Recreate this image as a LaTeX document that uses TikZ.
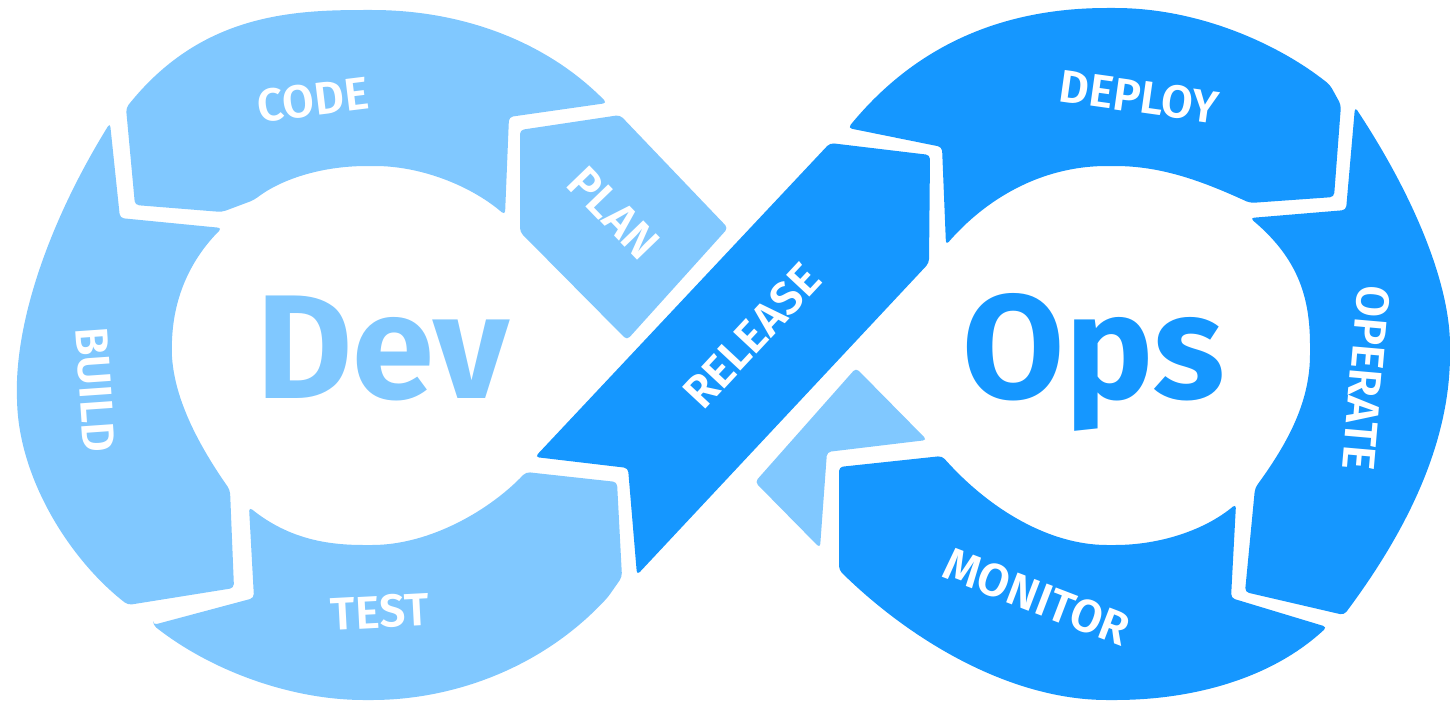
\documentclass[tikz,border=0pt]{standalone}
\usepackage{fontspec}
\setmainfont{Fira Sans}[BoldFont={Fira Sans SemiBold}]
\newfontfamily\bigfont{Fira Sans}
\definecolor{lb}{HTML}{80C8FF}
\definecolor{db}{HTML}{1597FF}
\begin{document}
\begin{tikzpicture}[x=1pt,y=-1pt,
  seg/.style={rounded corners=4pt},
  lbl/.style={text=white,font=\fontsize{46}{46}\selectfont\bfseries,inner sep=0pt},
  big/.style={font=\bigfont\fontsize{148}{148}\selectfont\bfseries,inner sep=0pt,anchor=base}]
\useasboundingbox (0,0) rectangle (1450,701);
% ---------- Dev loop ----------
% CODE
\fill[lb,seg] (126,108) .. controls (200,15) and (290,10) .. (368,10)
  .. controls (460,10) and (545,40) .. (607,103) -- (509,117) -- (505,215)
  .. controls (470,185) and (420,166) .. (371,166)
  .. controls (320,166) and (280,180) .. (254,200) -- (222,212) -- (135,205) -- cycle;
% BUILD
\fill[lb,seg] (110,123) .. controls (50,220) and (15,320) .. (17,400)
  .. controls (20,480) and (70,560) .. (128,605) -- (234,588) -- (230,490)
  .. controls (195,440) and (170,390) .. (172,340)
  .. controls (175,290) and (195,255) .. (222,228) -- (120,218) -- cycle;
% TEST
\fill[lb,seg] (153,625) -- (254,598) -- (249,507)
  .. controls (290,540) and (330,545) .. (368,545)
  .. controls (430,545) and (490,510) .. (526,472) -- (617,482) -- (622,577) -- (608,597)
  .. controls (540,670) and (450,700) .. (368,700)
  .. controls (290,700) and (210,670) .. (153,625) -- cycle;
% PLAN
\fill[lb,seg] (520,130) -- (620,115) -- (728,228) -- (627,340) -- (520,232) -- cycle;
% RELEASE
\fill[db,seg] (830,143) -- (930,155) -- (929,263) -- (637,575) -- (628,468) -- (535,457) -- cycle;
% ---------- Ops loop ----------
% DEPLOY
\fill[db,seg] (848,128) .. controls (920,40) and (1010,8) .. (1111,8)
  .. controls (1200,8) and (1280,45) .. (1330,85) -- (1341,105) -- (1334,197) -- (1250,203)
  .. controls (1200,180) and (1160,166) .. (1111,166)
  .. controls (1040,166) and (985,200) .. (946,245) -- (942,147) -- cycle;
% OPERATE
\fill[db,seg] (1355,107) .. controls (1410,190) and (1450,280) .. (1450,350)
  .. controls (1450,450) and (1400,540) .. (1344,615) -- (1245,592) -- (1255,488)
  .. controls (1290,440) and (1310,400) .. (1310,350)
  .. controls (1310,300) and (1300,260) .. (1250,218) -- (1346,210) -- cycle;
% MONITOR
\fill[db,seg] (839,467) -- (942,456)
  .. controls (990,510) and (1050,545) .. (1111,545)
  .. controls (1160,545) and (1205,530) .. (1236,504) -- (1231,598) -- (1327,627)
  .. controls (1270,680) and (1190,700) .. (1111,700)
  .. controls (1010,700) and (910,640) .. (839,570) -- cycle;
% light arrow tip
\fill[lb,seg] (856,368) -- (927,440) -- (827,452) -- (820,548) -- (755,482) -- cycle;
% ---------- texts ----------
\node[big,text=lb] (dev) at (383,398) {Dev};
\node[big,text=db] (ops) at (1094,398) {Ops};
\node[lbl,rotate=7] (code) at (313,100) {CODE};
\node[lbl,rotate=-46] (plan) at (614,213) {PLAN};
\node[lbl,rotate=-86] (build) at (95,390) {BUILD};
\node[lbl,rotate=3] (test) at (380,612) {TEST};
\node[lbl,rotate=47] (release) at (752,336) {RELEASE};
\node[lbl,rotate=-8] (deploy) at (1139,97) {DEPLOY};
\node[lbl,rotate=-95] (operate) at (1366,378) {OPERATE};
\node[lbl,rotate=-21] (monitor) at (1037,597) {MONITOR};
\end{tikzpicture}
\end{document}
